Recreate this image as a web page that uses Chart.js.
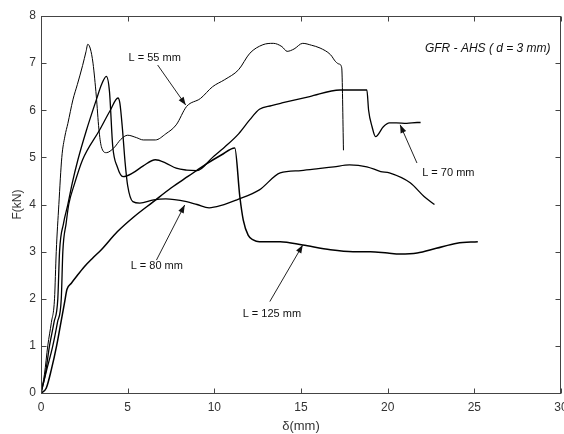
<!DOCTYPE html>
<html><head><meta charset="utf-8">
<script src="https://cdn.jsdelivr.net/npm/chart.js@4/dist/chart.umd.min.js"></script>
<style>html,body{margin:0;padding:0;background:#fff;}#wrap{width:564px;height:434px;}</style>
</head><body><div id="wrap"><canvas id="c" width="564" height="434"></canvas></div>
<script>
// ---- data (displacement δ in mm, force F in kN) ----
const L55_x = [0,0.2,0.39,0.6,0.78,0.88,1.03,1.2,1.38,1.55,1.84,2.1,2.4,2.6,2.7,2.85,3.0,3.19,3.34,3.48,3.77,4.2,4.6,5.0,5.5,5.9,6.6,7.2,7.8,8.4,9.2,9.9,10.6,11.4,12.05,12.8,13.4,13.9,14.2,14.6,15.1,15.6,16.1,16.7,17.0,17.2,17.35,17.45];
const L55_y = [0,0.4,1.0,1.5,2.0,3.0,4.0,5.0,5.45,5.72,6.22,6.55,6.95,7.25,7.4,7.3,7.0,6.3,5.6,5.23,5.1,5.2,5.38,5.47,5.42,5.37,5.37,5.5,5.69,6.08,6.25,6.5,6.65,6.86,7.21,7.39,7.42,7.35,7.25,7.3,7.42,7.38,7.32,7.18,7.03,6.98,6.9,5.15];

const L70_x = [0,0.25,0.49,0.75,0.97,1.07,1.3,1.55,1.8,2.13,2.6,3.19,3.5,3.77,3.95,4.14,4.4,4.73,5.3,5.9,6.6,7.2,7.8,8.4,9.0,9.9,10.6,11.4,12.05,12.6,13.3,13.96,15.5,17.25,18.8,18.9,19.1,19.3,19.75,20.1,20.5,21.1,21.7,21.9];
const L70_y = [0,0.4,1.0,1.5,2.0,3.0,3.6,4.0,4.45,4.95,5.55,6.22,6.55,6.72,6.4,5.23,4.8,4.59,4.67,4.82,4.95,4.88,4.77,4.73,4.72,5.0,5.22,5.5,5.8,6.02,6.1,6.16,6.29,6.43,6.43,6.0,5.65,5.44,5.65,5.73,5.73,5.72,5.74,5.74];

const L80_x = [0,0.3,0.68,0.95,1.17,1.26,1.45,1.6,1.9,2.4,3.38,4.0,4.44,4.55,4.7,4.85,5.0,5.3,5.7,6.5,7.2,8.4,9.0,9.7,10.4,11.3,12.6,13.8,15.0,16.0,16.9,17.8,18.8,19.6,20.1,21.3,22.1,22.7];
const L80_y = [0,0.45,1.0,1.5,2.0,3.0,3.6,4.0,4.4,4.95,5.58,6.0,6.26,6.15,5.6,4.9,4.4,4.06,4.03,4.1,4.12,4.06,4.0,3.93,3.98,4.1,4.31,4.67,4.72,4.76,4.8,4.84,4.8,4.7,4.67,4.46,4.17,4.0];

const L125_x = [0,0.3,0.6,0.9,1.15,1.35,1.5,1.75,2.0,2.5,3.0,3.48,4.4,5.4,6.45,7.5,8.5,9.5,10.4,11.18,11.47,11.67,11.95,12.24,12.6,13.8,15.1,16.7,18.0,19.0,20.0,20.7,21.7,22.8,24.0,25.2];
const L125_y = [0,0.1,0.5,1.0,1.5,1.9,2.2,2.33,2.45,2.68,2.87,3.04,3.42,3.75,4.05,4.35,4.6,4.85,5.05,5.2,4.17,3.67,3.35,3.25,3.21,3.21,3.14,3.04,3.0,3.0,2.97,2.95,2.97,3.07,3.18,3.21];

const xTicks = [0,5,10,15,20,25,30];
const yTicks = [0,1,2,3,4,5,6,7,8];

const labelTexts = ['L = 55 mm','L = 70 mm','L = 80 mm','L = 125 mm'];
const labelAt   = [[6.56,7.11],[23.5,4.67],[6.68,2.70],[13.32,1.68]];
const arrowTail = [[6.73,6.96],[21.69,4.88],[6.66,2.82],[13.2,1.94]];
const arrowTip  = [[8.35,6.11],[20.72,5.69],[8.29,3.99],[15.1,3.14]];
const titleText = 'GFR - AHS ( d = 3 mm)';
const titleAt = [29.4,7.3];

const toPts = (xs, ys) => xs.map((v,i)=>({x:v,y:ys[i]}));

const frame = {
  id:'frame',
  afterDraw(chart){
    const {ctx, chartArea:a, scales:{x,y}} = chart;
    ctx.save();
    ctx.strokeStyle='#444'; ctx.lineWidth=1;
    const L=Math.round(a.left)+0.5, R=Math.round(a.right)-0.5, T=Math.round(a.top)+0.5, B=Math.round(a.bottom)+0.5;
    ctx.strokeRect(L,T,R-L,B-T);
    ctx.beginPath();
    xTicks.forEach(v=>{const p=Math.round(x.getPixelForValue(v))+0.5; ctx.moveTo(p,B); ctx.lineTo(p,B-5); ctx.moveTo(p,T); ctx.lineTo(p,T+5);});
    yTicks.forEach(v=>{const p=Math.round(y.getPixelForValue(v))+0.5; ctx.moveTo(L,p); ctx.lineTo(L+5,p); ctx.moveTo(R,p); ctx.lineTo(R-5,p);});
    ctx.stroke();
    // labels and arrows
    ctx.fillStyle='#111'; ctx.strokeStyle='#222'; ctx.lineWidth=1;
    ctx.font='11px "Liberation Sans", Arial, sans-serif';
    ctx.textAlign='center'; ctx.textBaseline='middle';
    labelTexts.forEach((t,i)=>{
      ctx.fillText(t, x.getPixelForValue(labelAt[i][0]), y.getPixelForValue(labelAt[i][1]));
      const x0=x.getPixelForValue(arrowTail[i][0]), y0=y.getPixelForValue(arrowTail[i][1]);
      const x1=x.getPixelForValue(arrowTip[i][0]), y1=y.getPixelForValue(arrowTip[i][1]);
      ctx.beginPath(); ctx.moveTo(x0,y0); ctx.lineTo(x1,y1); ctx.stroke();
      const ang=Math.atan2(y1-y0,x1-x0), len=8, w=3;
      const bx=x1-len*Math.cos(ang), by=y1-len*Math.sin(ang);
      ctx.beginPath(); ctx.moveTo(x1,y1);
      ctx.lineTo(bx+w*Math.sin(ang), by-w*Math.cos(ang));
      ctx.lineTo(bx-w*Math.sin(ang), by+w*Math.cos(ang));
      ctx.closePath(); ctx.fill();
    });
    ctx.font='italic 12px "Liberation Sans", Arial, sans-serif';
    ctx.textAlign='right';
    ctx.fillText(titleText, x.getPixelForValue(titleAt[0]), y.getPixelForValue(titleAt[1]));
    ctx.restore();
  }
};

const ds = (label, xs, ys, w) => ({label, data: toPts(xs,ys), borderColor:'#000', borderWidth:w, pointRadius:0, cubicInterpolationMode:'monotone', fill:false});

new Chart(document.getElementById('c'), {
  type:'line',
  data:{datasets:[
    ds('L = 55 mm', L55_x, L55_y, 1),
    ds('L = 70 mm', L70_x, L70_y, 1.3),
    ds('L = 80 mm', L80_x, L80_y, 1.3),
    ds('L = 125 mm', L125_x, L125_y, 1.5)
  ]},
  options:{
    responsive:false, animation:false, devicePixelRatio:1,
    layout:{padding:{top:16,right:3,left:0,bottom:0}, autoPadding:false},
    plugins:{legend:{display:false}, tooltip:{enabled:false}},
    scales:{
      x:{type:'linear', min:0, max:30,
        afterFit(s){s.height=41; s.paddingLeft=0; s.paddingRight=0;},
        afterBuildTicks(s){s.ticks = xTicks.map(v=>({value:v}));},
        grid:{display:false, drawTicks:false}, border:{display:false},
        ticks:{padding:7, maxRotation:0, autoSkip:false, color:'#333', font:{family:'"Liberation Sans", Arial, sans-serif', size:12}},
        title:{display:true, text:'δ(mm)', color:'#333', padding:{top:1,bottom:0}, font:{family:'"Liberation Sans", Arial, sans-serif', size:13}}
      },
      y:{type:'linear', min:0, max:8,
        afterFit(s){s.width=41; s.paddingTop=0; s.paddingBottom=0;},
        afterBuildTicks(s){s.ticks = yTicks.map(v=>({value:v}));},
        grid:{display:false, drawTicks:false}, border:{display:false},
        ticks:{padding:5, autoSkip:false, color:'#333', font:{family:'"Liberation Sans", Arial, sans-serif', size:12}},
        title:{display:true, text:'F(kN)', color:'#333', padding:{top:10,bottom:0}, font:{family:'"Liberation Sans", Arial, sans-serif', size:12}}
      }
    }
  },
  plugins:[frame]
});
</script></body></html>
